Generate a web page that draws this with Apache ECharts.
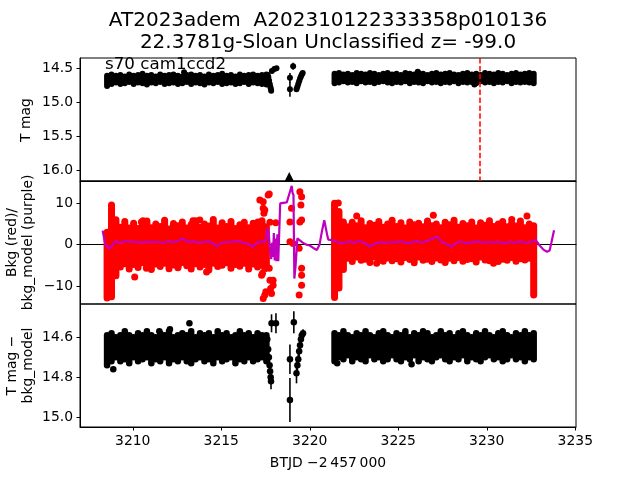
<!DOCTYPE html>
<html>
<head>
<meta charset="utf-8">
<script src="https://cdn.jsdelivr.net/npm/echarts@6.0.0/dist/echarts.min.js"></script>
<style>html,body{margin:0;padding:0;background:#fff}#c{width:640px;height:480px}</style>
</head>
<body>
<div id="c"></div>
<script>
// ---- time samples of the two observing segments (BTJD - 2457000) ----
const tA = [3208.55,3208.80,3209.05,3209.30,3209.55,3209.80,3210.05,3210.30,3210.55,3210.80,3211.05,3211.30,3211.55,3211.80,3212.05,3212.30,3212.55,3212.80,3213.05,3213.30,3213.55,3213.80,3214.05,3214.30,3214.55,3214.80,3215.05,3215.30,3215.55,3215.80,3216.05,3216.30,3216.55,3216.80,3217.05,3217.30,3217.55];
const tB = [3221.40,3221.65,3221.90,3222.15,3222.40,3222.65,3222.90,3223.15,3223.40,3223.65,3223.90,3224.15,3224.40,3224.65,3224.90,3225.15,3225.40,3225.65,3225.90,3226.15,3226.40,3226.65,3226.90,3227.15,3227.40,3227.65,3227.90,3228.15,3228.40,3228.65,3228.90,3229.15,3229.40,3229.65,3229.90,3230.15,3230.40,3230.65,3230.90,3231.15,3231.40,3231.65,3231.90,3232.15,3232.40,3232.65];

// ---- panel 1: T mag spread (brightest / faintest point per sample) ----
const p1MinA = [14.61,14.59,14.61,14.60,14.62,14.59,14.61,14.60,14.58,14.61,14.60,14.62,14.59,14.61,14.60,14.59,14.61,14.62,14.60,14.59,14.61,14.60,14.62,14.59,14.61,14.60,14.58,14.61,14.60,14.62,14.59,14.61,14.60,14.59,14.61,14.60,14.59];
const p1MaxA = [14.76,14.73,14.71,14.73,14.72,14.70,14.73,14.71,14.72,14.74,14.71,14.72,14.70,14.73,14.72,14.71,14.73,14.72,14.70,14.73,14.71,14.72,14.74,14.71,14.72,14.70,14.73,14.72,14.71,14.73,14.72,14.70,14.73,14.71,14.72,14.73,14.74];
const p1MinB = [14.58,14.57,14.59,14.58,14.60,14.57,14.58,14.59,14.57,14.58,14.60,14.58,14.57,14.59,14.58,14.60,14.57,14.58,14.59,14.57,14.58,14.60,14.58,14.57,14.59,14.58,14.57,14.59,14.60,14.58,14.57,14.59,14.58,14.60,14.57,14.58,14.59,14.57,14.58,14.60,14.58,14.57,14.59,14.58,14.57,14.58];
const p1MaxB = [14.72,14.71,14.69,14.71,14.70,14.72,14.69,14.71,14.70,14.72,14.70,14.69,14.71,14.72,14.70,14.71,14.69,14.72,14.70,14.71,14.72,14.69,14.71,14.70,14.72,14.70,14.71,14.69,14.72,14.70,14.71,14.70,14.72,14.69,14.71,14.70,14.72,14.70,14.71,14.69,14.72,14.70,14.71,14.70,14.71,14.72];
// individual panel-1 points with error bars
const p1X = [3217.62,3217.66,3217.70,3217.74,3217.77,3217.80,3217.82,3217.86,3218.00,3218.12,3218.88,3218.88,3219.06,3219.25,3219.30,3219.35,3219.40,3219.45,3219.50,3219.55,3219.60,3212.90,3226.10,3229.30];
const p1V = [14.60,14.63,14.68,14.73,14.77,14.80,14.83,14.54,14.51,14.50,14.64,14.81,14.47,14.81,14.77,14.73,14.69,14.65,14.62,14.59,14.57,14.56,14.55,14.74];
const p1E = [0.02,0.02,0.02,0.02,0.02,0.03,0.03,0.03,0.02,0.02,0.07,0.11,0.05,0.03,0.02,0.02,0.02,0.02,0.02,0.02,0.02,0.01,0.01,0.01];
const markT = [3218.84];
const markV = [16.09];
const discT = 3229.62;

// ---- panel 2: background (red) spread per sample ----
const p2HiA = [3.0,9.6,6.0,4.2,5.6,4.0,5.2,3.9,4.8,5.7,4.1,5.0,4.4,5.9,3.8,5.1,4.6,5.5,4.0,4.9,5.8,4.2,5.0,4.5,6.1,4.0,5.3,4.4,5.6,3.9,4.8,5.4,4.1,5.2,4.6,5.8,4.3];
const p2LoA = [-12.9,-12.6,-7.5,-5.4,-4.6,-5.9,-4.8,-5.5,-4.4,-5.2,-6.0,-4.7,-5.3,-4.5,-5.8,-4.9,-5.6,-4.3,-5.1,-5.9,-4.6,-5.4,-4.8,-6.1,-4.5,-5.3,-5.0,-4.4,-5.7,-4.8,-5.2,-4.5,-5.9,-4.7,-5.4,-5.0,-5.6];
const p2HiB = [10.0,8.0,5.5,4.3,5.4,4.6,5.8,4.1,5.1,4.7,5.6,4.2,5.0,5.9,4.4,5.3,4.0,5.5,4.8,5.2,4.3,5.7,4.6,5.0,4.1,5.4,4.8,5.9,4.2,5.1,4.6,5.5,4.0,5.3,4.7,5.8,4.4,5.0,5.6,4.3,5.2,4.5,5.7,4.1,5.0,4.6];
const p2LoB = [-12.8,-10.5,-6.0,-3.3,-4.1,-3.0,-3.8,-3.5,-4.3,-2.9,-3.7,-4.0,-3.2,-3.9,-3.4,-4.2,-3.1,-3.6,-4.4,-3.0,-3.8,-3.5,-4.1,-3.2,-3.7,-4.3,-3.3,-3.9,-3.1,-4.0,-3.6,-3.4,-4.2,-3.0,-3.7,-3.9,-3.2,-4.1,-3.5,-3.8,-3.1,-4.0,-3.4,-3.7,-3.3,-12.2];
// individual red points
const p2X = [3210.11,3210.77,3212.56,3214.17,3210.49,3210.58,3213.79,3213.40,3217.07,3217.18,3217.37,3217.37,3217.41,3217.46,3217.65,3217.71,3218.08,3217.75,3217.28,3217.33,3217.37,3217.46,3217.52,3217.71,3217.75,3217.79,3217.84,3217.93,3217.93,3217.46,3218.88,3218.88,3218.97,3219.06,3219.44,3219.54,3219.50,3219.44,3219.40,3219.54,3219.54,3219.54,3219.40,3219.54,3221.61,3222.65,3226.98,3232.27,3231.41,3223.78,3230.38];
const p2V = [-7.8,-5.7,-5.3,-6.6,5.5,5.8,5.95,5.8,5.5,10.8,10.4,8.8,7.6,8.4,12.0,12.25,5.3,5.4,-7.4,-6.9,-13.0,-12.2,-11.4,-5.7,-8.6,-10.6,-11.8,-8.6,-9.8,-5.8,5.5,0.7,8.8,0.3,12.8,11.6,9.6,5.5,-0.9,-5.7,-7.4,-9.8,-12.2,5.95,10.1,6.9,7.1,6.9,6.1,-4.5,-4.5];
// bkg_model (purple line)
const modelT = [3208.30,3208.45,3208.70,3209.00,3209.30,3209.60,3209.90,3210.20,3210.50,3210.80,3211.10,3211.40,3211.70,3212.00,3212.30,3212.60,3212.85,3213.10,3213.40,3213.70,3214.00,3214.30,3214.55,3214.75,3215.00,3215.30,3215.60,3215.90,3216.20,3216.50,3216.80,3217.05,3217.30,3217.50,3217.60,3217.68,3217.75,3217.82,3217.88,3217.92,3217.97,3218.02,3218.07,3218.12,3218.17,3218.22,3218.28,3218.33,3218.50,3218.70,3218.88,3218.93,3218.98,3219.03,3219.08,3219.13,3219.20,3219.30,3219.40,3219.60,3219.80,3220.00,3220.20,3220.40,3220.55,3220.70,3220.82,3220.90,3221.00,3221.05,3221.25,3221.40,3221.60,3221.90,3222.20,3222.50,3222.80,3223.10,3223.40,3223.70,3224.00,3224.30,3224.60,3224.90,3225.20,3225.50,3225.80,3226.10,3226.40,3226.70,3227.00,3227.20,3227.45,3227.70,3228.00,3228.30,3228.60,3228.90,3229.20,3229.50,3229.80,3230.10,3230.40,3230.70,3231.00,3231.30,3231.60,3231.90,3232.20,3232.50,3232.75,3232.95,3233.20,3233.40,3233.55,3233.65,3233.80];
const modelV = [3.4,0.0,-1.0,0.8,0.5,0.9,0.6,0.7,0.5,0.8,0.6,0.7,0.4,0.8,0.6,1.0,1.5,0.6,0.8,0.5,0.7,0.8,0.3,-0.5,0.4,0.7,0.6,0.9,0.5,0.2,-0.5,0.6,0.8,0.7,4.0,3.0,-1.0,-3.5,0.5,-3.0,2.8,-3.8,1.5,-4.0,2.5,-4.0,-4.1,10.0,10.1,10.2,12.8,13.5,14.2,12.5,12.0,-8.2,-5.0,1.5,1.2,0.5,0.0,-0.2,-0.8,-1.3,0.0,3.5,5.9,5.5,2.0,1.2,1.1,0.9,0.6,0.3,0.8,0.5,0.9,0.4,-0.5,0.3,0.6,0.4,0.7,0.5,0.9,0.3,0.6,0.8,0.5,1.0,1.6,2.0,0.6,0.2,-0.5,0.5,0.7,0.3,0.6,0.8,0.4,0.7,0.5,0.6,0.3,0.7,0.5,0.8,0.4,0.6,1.2,0.0,-1.2,-1.7,-1.4,0.5,3.5];

// ---- panel 3: T mag - bkg_model spread per sample ----
const p3MinA = [14.59,14.58,14.60,14.59,14.57,14.59,14.60,14.58,14.59,14.57,14.59,14.60,14.58,14.59,14.57,14.60,14.59,14.58,14.59,14.57,14.60,14.58,14.59,14.58,14.60,14.57,14.59,14.58,14.60,14.59,14.57,14.59,14.58,14.60,14.58,14.59,14.59];
const p3MaxA = [14.74,14.72,14.70,14.72,14.71,14.73,14.70,14.72,14.71,14.70,14.73,14.71,14.72,14.70,14.73,14.71,14.72,14.70,14.72,14.73,14.71,14.70,14.72,14.71,14.73,14.70,14.72,14.71,14.70,14.73,14.71,14.72,14.70,14.72,14.71,14.70,14.72];
const p3MinB = [14.58,14.59,14.57,14.59,14.60,14.58,14.59,14.57,14.59,14.60,14.58,14.57,14.59,14.60,14.58,14.59,14.57,14.60,14.58,14.59,14.57,14.58,14.60,14.59,14.57,14.59,14.58,14.60,14.58,14.57,14.59,14.60,14.58,14.59,14.57,14.59,14.60,14.58,14.57,14.59,14.60,14.58,14.59,14.57,14.59,14.58];
const p3MaxB = [14.72,14.70,14.71,14.69,14.72,14.70,14.71,14.72,14.69,14.71,14.70,14.72,14.71,14.69,14.71,14.72,14.70,14.71,14.69,14.72,14.70,14.71,14.72,14.70,14.69,14.71,14.72,14.70,14.71,14.69,14.72,14.70,14.71,14.72,14.70,14.69,14.71,14.70,14.72,14.71,14.69,14.71,14.70,14.72,14.70,14.71];
const p3X = [3217.60,3217.65,3217.69,3217.73,3217.76,3217.79,3217.81,3217.84,3218.09,3218.88,3218.88,3219.10,3219.25,3219.30,3219.35,3219.40,3219.45,3219.50,3219.55,3219.62,3213.20,3208.90,3211.50,3212.10,3225.75,3221.55];
const p3V = [14.61,14.66,14.70,14.74,14.77,14.80,14.82,14.53,14.53,14.71,14.913,14.525,14.78,14.74,14.71,14.67,14.64,14.61,14.59,14.58,14.53,14.76,14.57,14.56,14.735,14.73];
const p3E = [0.02,0.02,0.02,0.03,0.03,0.03,0.04,0.045,0.05,0.074,0.11,0.055,0.05,0.03,0.03,0.03,0.03,0.02,0.02,0.02,0.01,0.01,0.01,0.01,0.01,0.01];

// ---- tick labels ----
const xTicks = [3210,3215,3220,3225,3230,3235];
const y1Ticks = [14.5,15.0,15.5,16.0];
const y2Ticks = [-10,0,10];
const y3Ticks = [14.6,14.8,15.0];

// ---- build data ----
function bandData(minA,maxA,minB,maxB){
  return tA.map((t,i)=>[t,minA[i],maxA[i]]).concat(tB.map((t,i)=>[t,minB[i],maxB[i]]));
}
const band1 = bandData(p1MinA,p1MaxA,p1MinB,p1MaxB);
const band2 = bandData(p2LoA,p2HiA,p2LoB,p2HiB);
const band3 = bandData(p3MinA,p3MaxA,p3MinB,p3MaxB);
const pts1 = p1X.map((t,i)=>[t,p1V[i],p1E[i]]);
const pts2 = p2X.map((t,i)=>[t,p2V[i]]);
const pts3 = p3X.map((t,i)=>[t,p3V[i],p3E[i]]);
const model = modelT.map((t,i)=>[t,modelV[i]]);
const marks = markT.map((t,i)=>[t,markV[i]]);

function bandRender(color,w){
  return function(params,api){
    const t = api.value(0);
    const a = api.coord([t,api.value(1)]);
    const b = api.coord([t,api.value(2)]);
    const top = Math.min(a[1],b[1]) - w/2;
    const h = Math.abs(a[1]-b[1]) + w;
    return {type:'rect',shape:{x:a[0]-w/2,y:top,width:w,height:h,r:w/2},style:{fill:color}};
  };
}
function errRender(params,api){
  const t = api.value(0), v = api.value(1), e = api.value(2);
  const a = api.coord([t,v-e]), b = api.coord([t,v+e]);
  return {type:'line',shape:{x1:a[0],y1:a[1],x2:b[0],y2:b[1]},style:{stroke:'#000',lineWidth:1.6}};
}

const FONT = 'DejaVu Sans';
const tickFont = {fontFamily:FONT,fontSize:13.9,color:'#000'};
const minus = v => String(v).replace('-','\u2212');

function xAx(i,showLabels){
  return {type:'value',gridIndex:i,min:3207.02,max:3235.04,
    axisLine:{show:true,lineStyle:{color:'#000',width:1}},
    axisTick:{show:showLabels,length:3.5,inside:false,customValues:xTicks,lineStyle:{color:'#000',width:1}},
    axisLabel:{show:showLabels,customValues:xTicks,margin:7,formatter:v=>String(v),...tickFont},
    splitLine:{show:false}};
}
function yAx(i,min,max,ticks,inv,fmt){
  return {type:'value',gridIndex:i,min:min,max:max,inverse:inv,
    axisLine:{show:true,lineStyle:{color:'#000',width:1}},
    axisTick:{show:true,length:3.5,inside:false,customValues:ticks,lineStyle:{color:'#000',width:1}},
    axisLabel:{show:true,customValues:ticks,margin:7,formatter:fmt,...tickFont},
    splitLine:{show:false}};
}

const gridBase = {left:80,width:496,height:123,show:true,borderColor:'#000',borderWidth:1,backgroundColor:'transparent'};

const option = {
  animation:false,
  backgroundColor:'#fff',
  grid:[
    {...gridBase,top:58},
    {...gridBase,top:181},
    {...gridBase,top:304}
  ],
  xAxis:[xAx(0,false),xAx(1,false),xAx(2,true)],
  yAxis:[
    yAx(0,14.349,16.157,y1Ticks,true,v=>v.toFixed(1)),
    yAx(1,-14.35,15.39,y2Ticks,false,v=>minus(v)),
    yAx(2,14.4335,15.0485,y3Ticks,true,v=>v.toFixed(1))
  ],
  series:[
    // panel 1
    {type:'custom',xAxisIndex:0,yAxisIndex:0,data:band1,encode:{x:0,y:[1,2]},renderItem:bandRender('#000',6),clip:true,z:2},
    {type:'custom',xAxisIndex:0,yAxisIndex:0,data:pts1,encode:{x:0,y:1},renderItem:errRender,clip:true,z:3},
    {type:'scatter',xAxisIndex:0,yAxisIndex:0,data:pts1.map(p=>[p[0],p[1]]),symbolSize:6,itemStyle:{color:'#000',opacity:1},z:4},
    {type:'scatter',xAxisIndex:0,yAxisIndex:0,data:marks,symbol:'triangle',symbolSize:[9,9],itemStyle:{color:'#000',opacity:1},clip:false,z:4,
      markLine:{silent:true,symbol:['none','none'],label:{show:false},lineStyle:{color:'#ff0000',type:[5.5,2.4],width:1.5},data:[{xAxis:discT}]}},
    // panel 2
    {type:'custom',xAxisIndex:1,yAxisIndex:1,data:band2,encode:{x:0,y:[1,2]},renderItem:bandRender('#ff0000',7),clip:true,z:2},
    {type:'scatter',xAxisIndex:1,yAxisIndex:1,data:pts2,symbolSize:7,itemStyle:{color:'#ff0000',opacity:1},z:3},
    {type:'line',xAxisIndex:1,yAxisIndex:1,data:model,showSymbol:false,lineStyle:{color:'#bf00bf',width:2.2},z:5},
    // panel 3
    {type:'custom',xAxisIndex:2,yAxisIndex:2,data:band3,encode:{x:0,y:[1,2]},renderItem:bandRender('#000',6.5),clip:true,z:2},
    {type:'custom',xAxisIndex:2,yAxisIndex:2,data:pts3,encode:{x:0,y:1},renderItem:errRender,clip:true,z:3},
    {type:'scatter',xAxisIndex:2,yAxisIndex:2,data:pts3.map(p=>[p[0],p[1]]),symbolSize:6.5,itemStyle:{color:'#000',opacity:1},z:4}
  ],
  graphic:[
    {type:'text',x:328,y:20.5,style:{text:'AT2023adem  A202310122333358p010136',fontFamily:FONT,fontSize:20,fill:'#000',align:'center',verticalAlign:'middle'}},
    {type:'text',x:328,y:43,style:{text:'22.3781g-Sloan Unclassified z= -99.0',fontFamily:FONT,fontSize:20,fill:'#000',align:'center',verticalAlign:'middle'}},
    {type:'text',x:105,y:64.5,z:100,style:{text:'s70 cam1ccd2',fontFamily:FONT,fontSize:16.7,fill:'#000',align:'left',verticalAlign:'middle'}},
    {type:'text',x:26,y:120,rotation:Math.PI/2,style:{text:'T mag',fontFamily:FONT,fontSize:13.9,fill:'#000',align:'center',verticalAlign:'middle'}},
    {type:'text',x:20,y:242.5,rotation:Math.PI/2,style:{text:'Bkg (red)/\nbkg_model (purple)',fontFamily:FONT,fontSize:13.9,lineHeight:16,fill:'#000',align:'center',verticalAlign:'middle'}},
    {type:'text',x:20,y:365.5,rotation:Math.PI/2,style:{text:'T mag \u2212\nbkg_model',fontFamily:FONT,fontSize:13.9,lineHeight:16,fill:'#000',align:'center',verticalAlign:'middle'}},
    {type:'text',x:328,y:463,style:{text:'BTJD \u22122\u2009457\u2009000',fontFamily:FONT,fontSize:13.9,fill:'#000',align:'center',verticalAlign:'middle'}}
  ]
};
const chart = echarts.init(document.getElementById('c'),null,{renderer:'canvas'});
chart.setOption(option);
</script>
</body>
</html>
